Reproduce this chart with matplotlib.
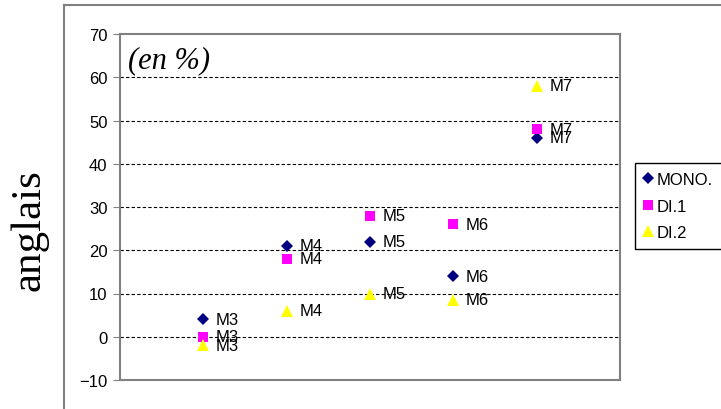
import matplotlib.pyplot as plt
from matplotlib.lines import Line2D

# données (en %)
categories = ['M3', 'M4', 'M5', 'M6', 'M7']
mono = [4, 21, 22, 14, 46]
di1 = [0, 18, 28, 26, 48]
di2 = [-2, 6, 10, 8.5, 58]
series_names = ['MONO.', 'DI.1', 'DI.2']

fig = plt.figure(figsize=(7.21, 4.10), dpi=100)
ax = fig.add_axes([120 / 721, 1 - 381 / 410, 500 / 721, 346 / 410])

xpos = list(range(1, len(categories) + 1))
styles = [
    (mono, 'D', '#000080', 6),
    (di1, 's', '#FF00FF', 7.5),
    (di2, '^', '#FFFF00', 8.5),
]
for (vals, mk, col, ms), name in zip(styles, series_names):
    ax.plot(xpos, vals, linestyle='none', marker=mk, color=col,
            markersize=ms, markeredgewidth=0, label=name, zorder=3)
    for x, v, cat in zip(xpos, vals, categories):
        ax.annotate(cat, (x, v), xytext=(9, 0), textcoords='offset points',
                    va='center', ha='left', fontsize=12,
                    family='Liberation Sans', zorder=4)

ax.set_xlim(0, 6)
ax.set_ylim(-10, 70)
ax.set_yticks(range(-10, 71, 10))
ax.set_xticks([])
for y in range(0, 61, 10):
    ax.axhline(y, color='black', linewidth=0.8, dashes=(3, 2), zorder=1)

for s in ax.spines.values():
    s.set_color('#808080')
    s.set_linewidth(1.5)
ax.tick_params(axis='y', direction='out', length=5, color='#808080',
               labelsize=12, pad=4)
for lab in ax.get_yticklabels():
    lab.set_family('Liberation Sans')

ax.text(0.015, 0.925, '(en %)', transform=ax.transAxes, fontsize=22,
        family='Liberation Serif', style='italic', va='center', ha='left')

fig.text(29 / 721, 1 - 230 / 410, 'anglais', rotation=90, fontsize=31,
         family='Liberation Serif', va='center', ha='center')

# cadre extérieur du graphique
fig.add_artist(Line2D([64 / 721, 64 / 721], [0, 1 - 6 / 410],
                      color='#808080', linewidth=1.5))
fig.add_artist(Line2D([64 / 721, 1], [1 - 6 / 410, 1 - 6 / 410],
                      color='#808080', linewidth=1.5))

leg = fig.legend(loc='upper left', bbox_to_anchor=(635 / 721, 1 - 164 / 410),
                 fancybox=False, edgecolor='black', framealpha=1,
                 prop={'family': 'Liberation Sans', 'size': 12},
                 handlelength=0.5, handletextpad=0.25, labelspacing=0.68,
                 borderpad=0.55, borderaxespad=0)
leg.get_frame().set_linewidth(1.0)

fig.savefig('out.png', dpi=100)
